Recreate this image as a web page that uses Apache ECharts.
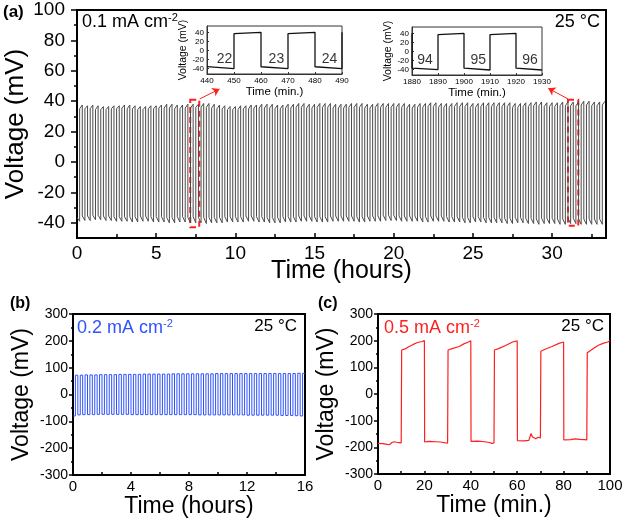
<!DOCTYPE html>
<html><head><meta charset="utf-8">
<script src="https://cdn.jsdelivr.net/npm/echarts@6/dist/echarts.min.js"></script>
<style>html,body{margin:0;padding:0;background:#fff}#c{width:622px;height:522px}</style>
</head><body><div id="c"></div>
<script>
// ---------- DATA ----------
// Panel (a): 100 cycles of 20 min (10 min negative, 10 min positive), time in minutes
const aCycleMinutes = 20;
const aNegStart = [-36.5,-35.5,-35.5,-35,-35,-35.5,-35.5,-36,-36,-36,
 -36,-36,-35.5,-35.5,-36,-36,-36,-36.5,-36.5,-36,
 -36,-36.5,-36,-36.5,-36.5,-36.5,-36.5,-36.5,-36,-36,
 -36,-36,-35.5,-35.5,-36,-36,-36.5,-36.5,-36.5,-36,
 -36,-36,-35.5,-35.5,-35.5,-36,-36,-36,-35.5,-35.5,
 -35.5,-35.5,-35.5,-36,-36,-35.5,-35.5,-35.5,-35,-35,
 -35,-35.5,-35.5,-35.5,-35.5,-36,-36,-35.5,-35.5,-35.5,
 -36,-36,-36,-36.5,-36.5,-36,-36,-36.5,-36.5,-36.5,
 -36.5,-37,-37,-36.5,-36.5,-37,-37,-37.5,-37,-37,
 -37,-37.5,-37.5,-37,-37,-37.5,-37.5,-37.5,-37.5,-37.5];
const aNegEnd = [-39,-38.5,-38.5,-38,-38,-38.5,-38.5,-39,-39,-39,
 -39.5,-39.5,-39,-39,-39.5,-39.5,-39.5,-40,-40,-39.5,
 -39.5,-40,-40,-40,-40.5,-40,-40,-40,-39.5,-39.5,
 -39.5,-39.5,-39,-39,-39.5,-39.5,-40,-40,-40,-39.5,
 -39.5,-39.5,-39,-39,-39,-39.5,-39.5,-39.5,-39,-39,
 -39,-39,-39,-39.5,-39.5,-39,-39,-39,-38.5,-38.5,
 -38.5,-39,-39,-39,-39,-39.5,-39.5,-39,-39,-39,
 -39.5,-39.5,-39.5,-40,-40,-39.5,-39.5,-40,-40,-40,
 -40,-40.5,-40.5,-40,-40,-40.5,-40.5,-41,-40.5,-40.5,
 -40.5,-41,-41,-40.5,-40.5,-41,-41,-41,-41,-41];
const aPosStart = [35,35,35,34.5,34.5,34.5,35,35,35.5,35,
 35,34.5,34.5,35,35,35.5,35.5,35.5,35,35,
 35.5,35.5,36,36,36,35.5,35,35,34.5,34.5,
 34.5,35,35,35.5,35.5,35.5,35.5,35,35,35.5,
 35.5,36,36,35.5,35.5,36,36,36,35.5,35.5,
 35.5,36,36,36,35.5,35.5,36,36,36,36,
 36,36,35.5,35.5,36,36,36.5,36.5,36,36,
 36,36.5,36.5,36.5,36,36,36.5,36.5,36.5,36.5,
 36.5,36.5,36,36,36.5,36.5,37,37,36.5,36.5,
 36.5,37,37,37,37,37.5,37.5,37,37,37.5];
const aPosEnd = [37.5,37,37.5,37,36.5,36.5,37,37,37.5,37.5,
 37,36.5,36.5,37,37,37.5,38,38,37.5,37.5,
 38,38,38,38.5,38.5,38,37.5,37,36.5,36.5,
 37,37,37.5,37.5,38,38,38,37.5,37.5,38,
 38,38.5,38.5,38,38,38.5,38.5,38.5,38,38,
 38,38.5,38.5,38.5,38,38,38.5,38.5,38.5,38.5,
 38.5,38.5,38,38,38.5,38.5,39,39,38.5,38.5,
 38.5,39,39,39,38.5,38.5,39,39,39,39,
 39,39,38.5,38.5,39,39,39.5,39.5,39,39,
 39,39.5,39.5,39.5,39.5,40,40,39.5,39.5,40];
const aYLabels = [-40,-20,0,20,40,60,80,100];
const aYMinor = [-30,-10,10,30,50,70,90];

// Insets (time in minutes)
const in1Time = [440,450,450,460,460,470,470,480,480,490,490];
const in1Volt = [-35.5,-40,37,40,-36,-40,37,40,-36,-40,40];
const in1Cycles = [[446.5,-19,'22'],[465.7,-19,'23'],[485.4,-19,'24']];
const in2Time = [1880,1880,1890,1890,1900,1900,1910,1910,1920,1920,1930];
const in2Volt = [40,-37,-40,37,40,-37,-41,37,40,-37,-41];
const in2Cycles = [[1885,-19,'94'],[1905.5,-19,'95'],[1925.4,-19,'96']];
const inYLabels = [-40,-20,0,20,40];

// Panel (b): 48 cycles of 20 min, 0.2 mA cm-2
const bCycleMinutes = 20;
const bNeg = [-80,-76,-75,-75,-75,-74,-74,-74,-74,-74,-74,-74,-75,-75,-75,-75,-75,-75,-75,-75,-75,-75,-75,-75,
 -75,-75,-76,-76,-76,-76,-76,-76,-76,-76,-76,-76,-77,-77,-77,-77,-77,-77,-77,-78,-78,-78,-79,-80];
const bPos = [72,72,73,73,73,74,74,74,74,75,75,75,75,75,76,76,76,76,76,76,77,77,77,77,
 77,77,77,77,77,78,78,78,78,78,78,78,78,78,78,78,78,78,78,78,78,78,79,79];

// Panel (c): 0.5 mA cm-2, time in minutes
const cTime = [0,2,4,5,6,7,8,9,10,
 10.2,11,12,13,15,17,19,20,
 20.1,22,25,27,29,30,
 30.2,32,35,37,39,40,
 40.1,43,46,48,49,50,
 50.2,52,55,58,60,
 60.1,63,65,66,66.5,67,68,69,70,
 70.2,72,75,78,80,
 80.1,83,85,87,89,90,
 90.2,91,93,95,97,99,100];
const cVolt = [-185,-186,-189,-190,-182,-179,-181,-182,-183,
 165,168,170,176,185,193,197,200,
 -180,-178,-179,-180,-183,-184,
 165,170,178,188,195,200,
 -178,-177,-179,-182,-185,-183,
 165,170,182,195,199,
 -175,-176,-174,-148,-160,-162,-168,-162,-165,
 160,168,178,190,195,
 -172,-171,-168,-170,-171,-172,
 155,160,172,183,190,195,200];

// ---------- BUILD ----------
const aData = [];
for (let n = 0; n < aPosEnd.length; n++) {
  const t0 = n * aCycleMinutes;
  aData.push([t0/60, aNegStart[n]], [(t0+aCycleMinutes/2)/60, aNegEnd[n]],
             [(t0+aCycleMinutes/2)/60, aPosStart[n]], [(t0+aCycleMinutes)/60, aPosEnd[n]]);
}
const bData = [];
for (let n = 0; n < bPos.length; n++) {
  const t0 = n * bCycleMinutes;
  bData.push([t0/60, bNeg[n]], [(t0+bCycleMinutes/2)/60, bNeg[n]],
             [(t0+bCycleMinutes/2)/60, bPos[n]], [(t0+bCycleMinutes)/60, bPos[n]]);
}
const in1Data = in1Time.map((t,i)=>[t,in1Volt[i]]);
const in2Data = in2Time.map((t,i)=>[t,in2Volt[i]]);
const cData = cTime.map((t,i)=>[t,cVolt[i]]);

const FONT = '"Liberation Sans", Arial, sans-serif';
const BLK = '#000';
const RED = '#ff1f1f';
const BLUE = '#2f52ff';
const plain = v => String(v);

function frame(extra){ return Object.assign({show:true, borderColor:BLK, borderWidth:2, backgroundColor:'rgba(0,0,0,0)', containLabel:false, outerBoundsMode:'none'}, extra); }

const chart = echarts.init(document.getElementById('c'), null, {renderer:'canvas'});
const option = {
  animation:false,
  textStyle:{fontFamily:FONT, color:BLK},
  grid:[
    frame({left:77, right:16, top:10, bottom:284}),
    frame({left:207, right:280, top:26, bottom:448, borderWidth:1, borderColor:'#333', backgroundColor:'#fff'}),
    frame({left:412, right:80, top:27, bottom:447, borderWidth:1, borderColor:'#333', backgroundColor:'#fff'}),
    frame({left:73, right:317, top:314, bottom:47}),
    frame({left:378, right:12, top:314, bottom:48})
  ],
  xAxis:[
    {gridIndex:0, type:'value', min:0, max:33.4, interval:5,
     axisLine:{onZero:false, lineStyle:{color:BLK,width:2}},
     axisTick:{inside:true,length:5,lineStyle:{color:BLK,width:1.5}},
     minorTick:{show:true,splitNumber:2,length:4,lineStyle:{color:BLK,width:1.5}},
     splitLine:{show:false},
     axisLabel:{fontSize:19,color:BLK,margin:6,showMaxLabel:false,fontFamily:FONT},
     nameMoveOverlap:false,
     name:'Time (hours)', nameLocation:'middle', nameGap:21, nameTextStyle:{fontSize:25,color:BLK,fontFamily:FONT,verticalAlign:'top'}},
    {gridIndex:1, type:'value', min:440, max:490, interval:10,
     axisLine:{onZero:false, lineStyle:{color:'#333',width:1}},
     axisTick:{inside:true,length:2,lineStyle:{color:'#333'}},
     splitLine:{show:false},
     axisLabel:{fontSize:8,color:BLK,margin:3,fontFamily:FONT,formatter:plain},
     name:'Time (min.)', nameLocation:'middle', nameGap:12, nameTextStyle:{fontSize:11.5,color:BLK,fontFamily:FONT,verticalAlign:'top'}},
    {gridIndex:2, type:'value', min:1880, max:1930, interval:10,
     axisLine:{onZero:false, lineStyle:{color:'#333',width:1}},
     axisTick:{inside:true,length:2,lineStyle:{color:'#333'}},
     splitLine:{show:false},
     axisLabel:{fontSize:8,color:BLK,margin:3,fontFamily:FONT,formatter:plain},
     name:'Time (min.)', nameLocation:'middle', nameGap:12, nameTextStyle:{fontSize:11.5,color:BLK,fontFamily:FONT,verticalAlign:'top'}},
    {gridIndex:3, type:'value', min:0, max:16, interval:4,
     axisLine:{onZero:false, lineStyle:{color:BLK,width:2}},
     axisTick:{inside:true,length:3,lineStyle:{color:BLK,width:1.5}},
     minorTick:{show:true,splitNumber:2,length:3,lineStyle:{color:BLK,width:1.5}},
     splitLine:{show:false},
     axisLabel:{fontSize:15,color:BLK,margin:4,fontFamily:FONT},
     name:'Time (hours)', nameLocation:'middle', nameGap:20, nameTextStyle:{fontSize:23,color:BLK,fontFamily:FONT,verticalAlign:'top'}},
    {gridIndex:4, type:'value', min:0, max:100, interval:20,
     axisLine:{onZero:false, lineStyle:{color:BLK,width:2}},
     axisTick:{inside:true,length:3,lineStyle:{color:BLK,width:1.5}},
     minorTick:{show:true,splitNumber:2,length:3,lineStyle:{color:BLK,width:1.5}},
     splitLine:{show:false},
     axisLabel:{fontSize:15,color:BLK,margin:4,fontFamily:FONT},
     name:'Time (min.)', nameLocation:'middle', nameGap:20, nameTextStyle:{fontSize:23,color:BLK,fontFamily:FONT,verticalAlign:'top'}}
  ],
  yAxis:[
    {gridIndex:0, type:'value', min:-50, max:100,
     axisLine:{onZero:false, lineStyle:{color:BLK,width:2}},
     axisTick:{length:6,customValues:aYLabels,lineStyle:{color:BLK,width:1.5}},
     splitLine:{show:false},
     axisLabel:{fontSize:19,color:BLK,margin:12,customValues:aYLabels,fontFamily:FONT},
     nameMoveOverlap:false,
     name:'Voltage (mV)', nameLocation:'middle', nameGap:48, nameTextStyle:{fontSize:26,color:BLK,fontFamily:FONT}},
    {gridIndex:0, type:'value', min:-50, max:100, position:'left',
     axisLine:{show:false, onZero:false},
     axisTick:{length:3,customValues:aYMinor,lineStyle:{color:BLK,width:1.5}},
     axisLabel:{show:false}, splitLine:{show:false}},
    {gridIndex:1, type:'value', min:-52, max:54,
     axisLine:{onZero:false, lineStyle:{color:'#333',width:1}},
     axisTick:{inside:true,length:2,customValues:inYLabels,lineStyle:{color:'#333'}},
     splitLine:{show:false},
     axisLabel:{fontSize:8,color:BLK,margin:3,customValues:inYLabels,fontFamily:FONT},
     name:'Voltage (mV)', nameLocation:'middle', nameGap:17, nameTextStyle:{fontSize:10.5,color:BLK,fontFamily:FONT}},
    {gridIndex:2, type:'value', min:-52, max:54,
     axisLine:{onZero:false, lineStyle:{color:'#333',width:1}},
     axisTick:{inside:true,length:2,customValues:inYLabels,lineStyle:{color:'#333'}},
     splitLine:{show:false},
     axisLabel:{fontSize:8,color:BLK,margin:3,customValues:inYLabels,fontFamily:FONT},
     name:'Voltage (mV)', nameLocation:'middle', nameGap:17, nameTextStyle:{fontSize:10.5,color:BLK,fontFamily:FONT}},
    {gridIndex:3, type:'value', min:-300, max:300, interval:100,
     axisLine:{onZero:false, lineStyle:{color:BLK,width:2}},
     axisTick:{length:4,lineStyle:{color:BLK,width:1.5}},
     minorTick:{show:true,splitNumber:2,length:2,lineStyle:{color:BLK,width:1.5}},
     splitLine:{show:false},
     axisLabel:{fontSize:14,color:BLK,margin:5,fontFamily:FONT},
     name:'Voltage (mV)', nameLocation:'middle', nameGap:40, nameTextStyle:{fontSize:23,color:BLK,fontFamily:FONT}},
    {gridIndex:4, type:'value', min:-300, max:300, interval:100,
     axisLine:{onZero:false, lineStyle:{color:BLK,width:2}},
     axisTick:{length:4,lineStyle:{color:BLK,width:1.5}},
     minorTick:{show:true,splitNumber:2,length:2,lineStyle:{color:BLK,width:1.5}},
     splitLine:{show:false},
     axisLabel:{fontSize:14,color:BLK,margin:5,fontFamily:FONT},
     name:'Voltage (mV)', nameLocation:'middle', nameGap:40, nameTextStyle:{fontSize:23,color:BLK,fontFamily:FONT}}
  ],
  series:[
    {type:'line', xAxisIndex:0, yAxisIndex:0, data:aData, showSymbol:false, symbol:'none',
     lineStyle:{color:'#4a4a4a', width:1}, silent:true,
     markArea:{silent:true, itemStyle:{color:'rgba(0,0,0,0)', borderColor:RED, borderWidth:2, borderType:[6,4]},
       data:[[{coord:[7.15,41]},{coord:[7.72,-43]}],[{coord:[31.0,41]},{coord:[31.65,-42]}]]},
     markLine:{silent:true, symbol:['none','arrow'], symbolSize:[7,7], label:{show:false},
       lineStyle:{color:RED, width:1, type:'solid'},
       data:[[{coord:[7.75,41.5]},{coord:[9.0,48]}],[{coord:[31.0,41.5]},{coord:[29.75,48.5]}]]}},
    {type:'line', xAxisIndex:1, yAxisIndex:2, data:in1Data, showSymbol:false, symbol:'none',
     lineStyle:{color:'#111', width:1.3}, silent:true},
    {type:'scatter', xAxisIndex:1, yAxisIndex:2, data:in1Cycles, symbolSize:0, silent:true,
     label:{show:true, position:'inside', formatter:p=>p.value[2], fontSize:14, color:BLK, fontFamily:FONT}},
    {type:'line', xAxisIndex:2, yAxisIndex:3, data:in2Data, showSymbol:false, symbol:'none',
     lineStyle:{color:'#111', width:1.3}, silent:true},
    {type:'scatter', xAxisIndex:2, yAxisIndex:3, data:in2Cycles, symbolSize:0, silent:true,
     label:{show:true, position:'inside', formatter:p=>p.value[2], fontSize:14, color:BLK, fontFamily:FONT}},
    {type:'line', xAxisIndex:3, yAxisIndex:4, data:bData, showSymbol:false, symbol:'none',
     lineStyle:{color:BLUE, width:1}, silent:true},
    {type:'line', xAxisIndex:4, yAxisIndex:5, data:cData, showSymbol:false, symbol:'none',
     lineStyle:{color:RED, width:1.2}, silent:true}
  ],
  graphic:[
    {type:'text', left:3, top:4, style:{text:'(a)', font:'bold 17px '+FONT, fill:BLK}},
    {type:'text', left:10, top:296, style:{text:'(b)', font:'bold 16px '+FONT, fill:BLK}},
    {type:'text', left:318, top:296, style:{text:'(c)', font:'bold 16px '+FONT, fill:BLK}},
    {type:'text', left:82, top:12, style:{text:'{n|0.1 mA cm}{s|-2}', fill:BLK,
      rich:{n:{fontSize:18, fontFamily:FONT, lineHeight:20}, s:{fontSize:11, fontFamily:FONT, verticalAlign:'top', lineHeight:20, padding:[0,0,9,0]}}}},
    {type:'text', right:22, top:13, style:{text:'25 °C', font:'18px '+FONT, fill:BLK}},
    {type:'text', left:77, top:318, style:{text:'{n|0.2 mA cm}{s|-2}', fill:BLUE,
      rich:{n:{fontSize:18, fontFamily:FONT, lineHeight:20, color:BLUE}, s:{fontSize:11, fontFamily:FONT, color:BLUE, verticalAlign:'top', lineHeight:20, padding:[0,0,9,0]}}}},
    {type:'text', right:325, top:318, style:{text:'25 °C', font:'17px '+FONT, fill:BLK}},
    {type:'text', left:384, top:318, style:{text:'{n|0.5 mA cm}{s|-2}', fill:RED,
      rich:{n:{fontSize:18, fontFamily:FONT, lineHeight:20, color:RED}, s:{fontSize:11, fontFamily:FONT, color:RED, verticalAlign:'top', lineHeight:20, padding:[0,0,9,0]}}}},
    {type:'text', right:18, top:318, style:{text:'25 °C', font:'17px '+FONT, fill:BLK}}
  ]
};
chart.setOption(option);
</script></body></html>
